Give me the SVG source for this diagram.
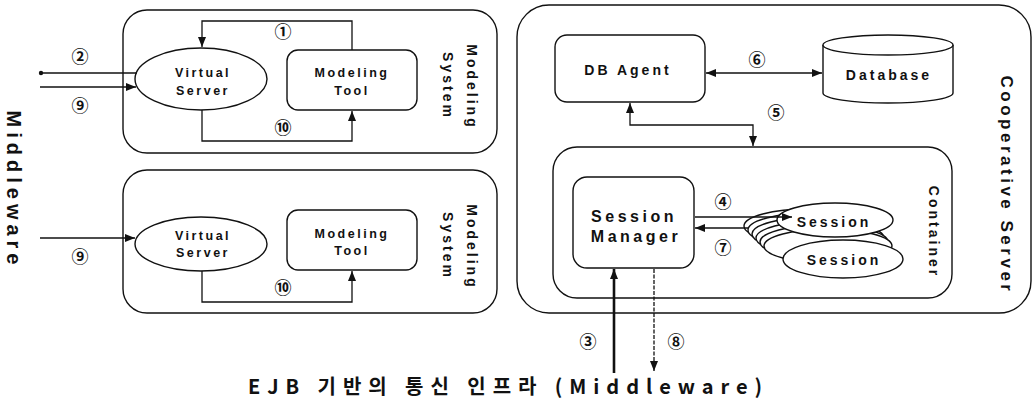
<svg xmlns="http://www.w3.org/2000/svg" width="1034" height="405" viewBox="0 0 1034 405">
<defs>
<marker id="ah" markerUnits="userSpaceOnUse" markerWidth="10" markerHeight="8" refX="10" refY="4" orient="auto-start-reverse">
<path d="M0,0 L10,4 L0,8 z" fill="#111"/>
</marker>
<marker id="dot" markerUnits="userSpaceOnUse" markerWidth="6" markerHeight="6" refX="3" refY="3" orient="auto">
<circle cx="3" cy="3" r="2.2" fill="#111"/>
</marker>
<style>
.box{fill:#fff;stroke:#111;stroke-width:1.4}
.ln{fill:none;stroke:#111;stroke-width:1.3}
.t{font-family:"Liberation Sans",Arial,sans-serif;font-weight:bold;fill:#111;text-anchor:middle}
.s{font-size:12.5px;letter-spacing:2.5px}
.m{font-size:14px;letter-spacing:3px}
.n{font-family:"Noto Sans CJK KR","DejaVu Sans",sans-serif;font-size:17px;font-weight:bold;fill:#111;text-anchor:middle}
</style>
</defs>
<rect width="1034" height="405" fill="#fff"/>

<g id="modeling-system-1">
<rect class="box" x="123" y="10" width="374" height="143" rx="24"/>
<g id="virtual-server-1"><ellipse class="box" cx="201" cy="79" rx="66" ry="31"/>
<text class="t s" x="203" y="77">Virtual</text><text class="t s" x="203" y="95">Server</text></g>
<g id="modeling-tool-1"><rect class="box" x="287" y="50" width="130" height="60" rx="11"/>
<text class="t s" x="352" y="77">Modeling</text><text class="t s" x="352" y="95">Tool</text></g>
<text class="t m" transform="translate(467,87) rotate(90)">Modeling</text>
<text class="t m" transform="translate(443,86) rotate(90)">System</text>
</g>

<g id="modeling-system-2">
<rect class="box" x="123" y="170" width="374" height="143" rx="24"/>
<g id="virtual-server-2"><ellipse class="box" cx="201" cy="244" rx="66" ry="27"/>
<text class="t s" x="203" y="240">Virtual</text><text class="t s" x="203" y="257">Server</text></g>
<g id="modeling-tool-2"><rect class="box" x="287" y="210" width="130" height="60" rx="11"/>
<text class="t s" x="352" y="238">Modeling</text><text class="t s" x="352" y="255">Tool</text></g>
<text class="t m" transform="translate(467,247) rotate(90)">Modeling</text>
<text class="t m" transform="translate(443,246) rotate(90)">System</text>
</g>

<g id="middleware-label">
<text class="t" style="font-size:20px;letter-spacing:5px" transform="translate(7,190) rotate(90)">Middleware</text>
</g>

<g id="cooperative-server">
<rect class="box" x="517" y="5" width="514" height="308" rx="32"/>
<text class="t" style="font-size:17px;letter-spacing:3.5px" transform="translate(1001,185) rotate(90)">Cooperative Server</text>
</g>

<g id="db-agent"><rect class="box" x="555" y="35" width="150" height="67" rx="12"/>
<text class="t m" x="628" y="75">DB Agent</text></g>

<g id="database">
<path class="box" d="M823,45 V93 A65,10 0 0 0 953,93 V45"/>
<ellipse class="box" cx="888" cy="45" rx="65" ry="10"/>
<text class="t m" x="889" y="80">Database</text>
</g>

<g id="container">
<rect class="box" x="553" y="147" width="399" height="151" rx="24"/>
<text class="t m" transform="translate(929,232) rotate(90)">Container</text>
</g>

<g id="session-manager"><rect class="box" x="573" y="177" width="121" height="91" rx="14"/>
<text class="t" style="font-size:16px;letter-spacing:3.5px" x="634" y="222">Session</text>
<text class="t" style="font-size:16px;letter-spacing:3.5px" x="636" y="242">Manager</text></g>

<g id="sessions">
<ellipse class="box" cx="808" cy="226" rx="64" ry="17"/>
<ellipse class="box" cx="812" cy="230" rx="64" ry="17"/>
<ellipse class="box" cx="816" cy="234" rx="64" ry="17"/>
<ellipse class="box" cx="820" cy="238" rx="64" ry="17"/>
<ellipse class="box" cx="824" cy="242" rx="64" ry="17"/>
<ellipse class="box" cx="828" cy="246" rx="64" ry="17"/>
<ellipse class="box" cx="835" cy="220" rx="58" ry="17"/>
<text class="t m" x="834" y="227">Session</text>
<ellipse class="box" cx="843" cy="259" rx="60" ry="19"/>
<text class="t m" x="844" y="265">Session</text>
</g>

<g id="connectors">
<path class="ln" d="M352,50 V21 H202 V47" marker-end="url(#ah)"/>
<path class="ln" d="M202,110 V141 H352 V111" marker-end="url(#ah)"/>
<path class="ln" d="M137,73 H41" marker-end="url(#dot)"/>
<path class="ln" d="M40,87 H136" marker-end="url(#ah)"/>
<path class="ln" d="M40,238 H135" marker-end="url(#ah)"/>
<path class="ln" d="M202,271 V302 H352 V271" marker-end="url(#ah)"/>
<path class="ln" d="M706,73 H822" marker-start="url(#ah)" marker-end="url(#ah)"/>
<path class="ln" d="M630,103 V125 H753 V146" marker-start="url(#ah)" marker-end="url(#ah)"/>
<path class="ln" d="M695,217 H792" marker-end="url(#ah)"/>
<path class="ln" d="M748,228 H695" marker-end="url(#ah)"/>
<path class="ln" d="M614,373 V269" style="stroke-width:2.6" marker-end="url(#ah)"/>
<path class="ln" d="M654,269 V371" style="stroke-dasharray:4 1.5" marker-end="url(#ah)"/>
<text class="n" x="283" y="38">①</text>
<text class="n" x="80" y="63">②</text>
<text class="n" x="80" y="112">⑨</text>
<text class="n" x="283" y="134">⑩</text>
<text class="n" x="80" y="263">⑨</text>
<text class="n" x="283" y="294">⑩</text>
<text class="n" x="757" y="66">⑥</text>
<text class="n" x="776" y="119">⑤</text>
<text class="n" x="723" y="208">④</text>
<text class="n" x="723" y="254">⑦</text>
<text class="n" x="588" y="348">③</text>
<text class="n" x="676" y="348">⑧</text>
</g>

<g id="bottom-label">
<text x="248" y="394" textLength="514" lengthAdjust="spacing" style="font-family:'Noto Sans CJK KR','Liberation Sans',sans-serif;font-size:20px;font-weight:bold;fill:#111">EJB 기반의 통신 인프라 (Middleware)</text>
</g>
</svg>
